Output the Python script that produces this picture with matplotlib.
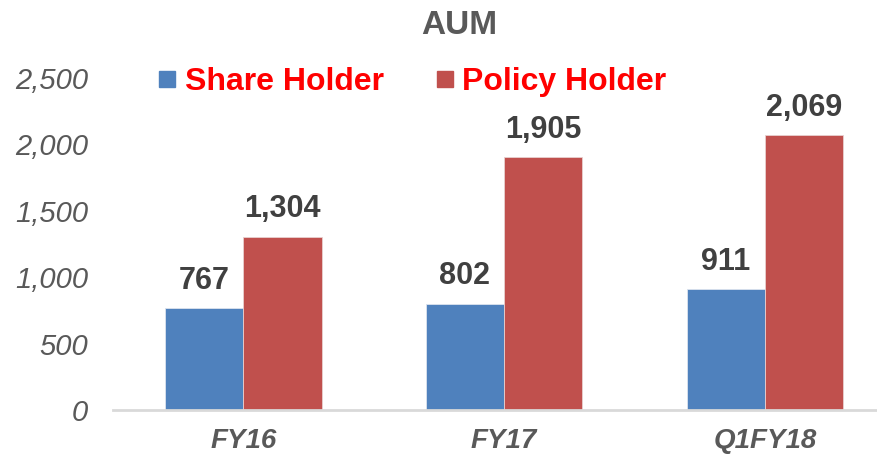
import numpy as np
import matplotlib.pyplot as plt
from matplotlib.lines import Line2D

plt.rcParams['font.family'] = ['Liberation Sans', 'DejaVu Sans']

categories = ['FY16', 'FY17', 'Q1FY18']
share_holder = [767, 802, 911]
policy_holder = [1304, 1905, 2069]
y_ticks = [0, 500, 1000, 1500, 2000, 2500]

blue = '#4F81BD'
red = '#C0504D'
gray = '#595959'
dark = '#404040'

fig = plt.figure(figsize=(8.77, 4.57), dpi=100)
ax = fig.add_axes([0.1288, 0.1028, 0.8712, 0.7265])

x = np.arange(len(categories))
w = 0.3
b1 = ax.bar(x - w / 2, share_holder, w, color=blue, edgecolor='#DCE3EE', linewidth=0.6)
b2 = ax.bar(x + w / 2, policy_holder, w, color=red, edgecolor='#E8D0D0', linewidth=0.6)

# value labels above every bar
for bars, vals in ((b1, share_holder), (b2, policy_holder)):
    for bar, v in zip(bars, vals):
        ax.annotate(f'{v:,}', (bar.get_x() + bar.get_width() / 2, v),
                    xytext=(0, 9), textcoords='offset points',
                    ha='center', va='bottom', fontsize=22,
                    fontweight='bold', color=dark)

ax.set_xlim(-0.5, 2.43)
ax.set_ylim(0, 2500)
ax.set_yticks(y_ticks)
ax.set_yticklabels([f'{t:,}' for t in y_ticks], fontsize=21,
                   fontstyle='italic', color=gray)
ax.set_xticks(x)
ax.set_xticklabels(categories, fontsize=20, fontstyle='italic',
                   fontweight='bold', color=gray)
ax.tick_params(axis='y', length=0, pad=18)
ax.tick_params(axis='x', length=0, pad=13)

for s in ('top', 'right', 'left'):
    ax.spines[s].set_visible(False)
ax.spines['bottom'].set_color('#D9D9D9')
ax.spines['bottom'].set_linewidth(2)

fig.text(459 / 877, 1 - 25 / 457, 'AUM', ha='center', va='center',
         fontsize=24, fontweight='bold', color=gray)

handles = [Line2D([], [], marker='s', linestyle='none', markersize=11,
                  markerfacecolor=c, markeredgecolor=c) for c in (blue, red)]
leg = fig.legend(handles, ['Share Holder', 'Policy Holder'], ncol=2,
                 loc='center', bbox_to_anchor=(412 / 877, 1 - 82 / 457),
                 frameon=False, handlelength=0.6,
                 handletextpad=0.25, columnspacing=1.6,
                 prop={'weight': 'bold', 'size': 23})
for t in leg.get_texts():
    t.set_color('#FF0000')

fig.savefig('out.png', dpi=100)
